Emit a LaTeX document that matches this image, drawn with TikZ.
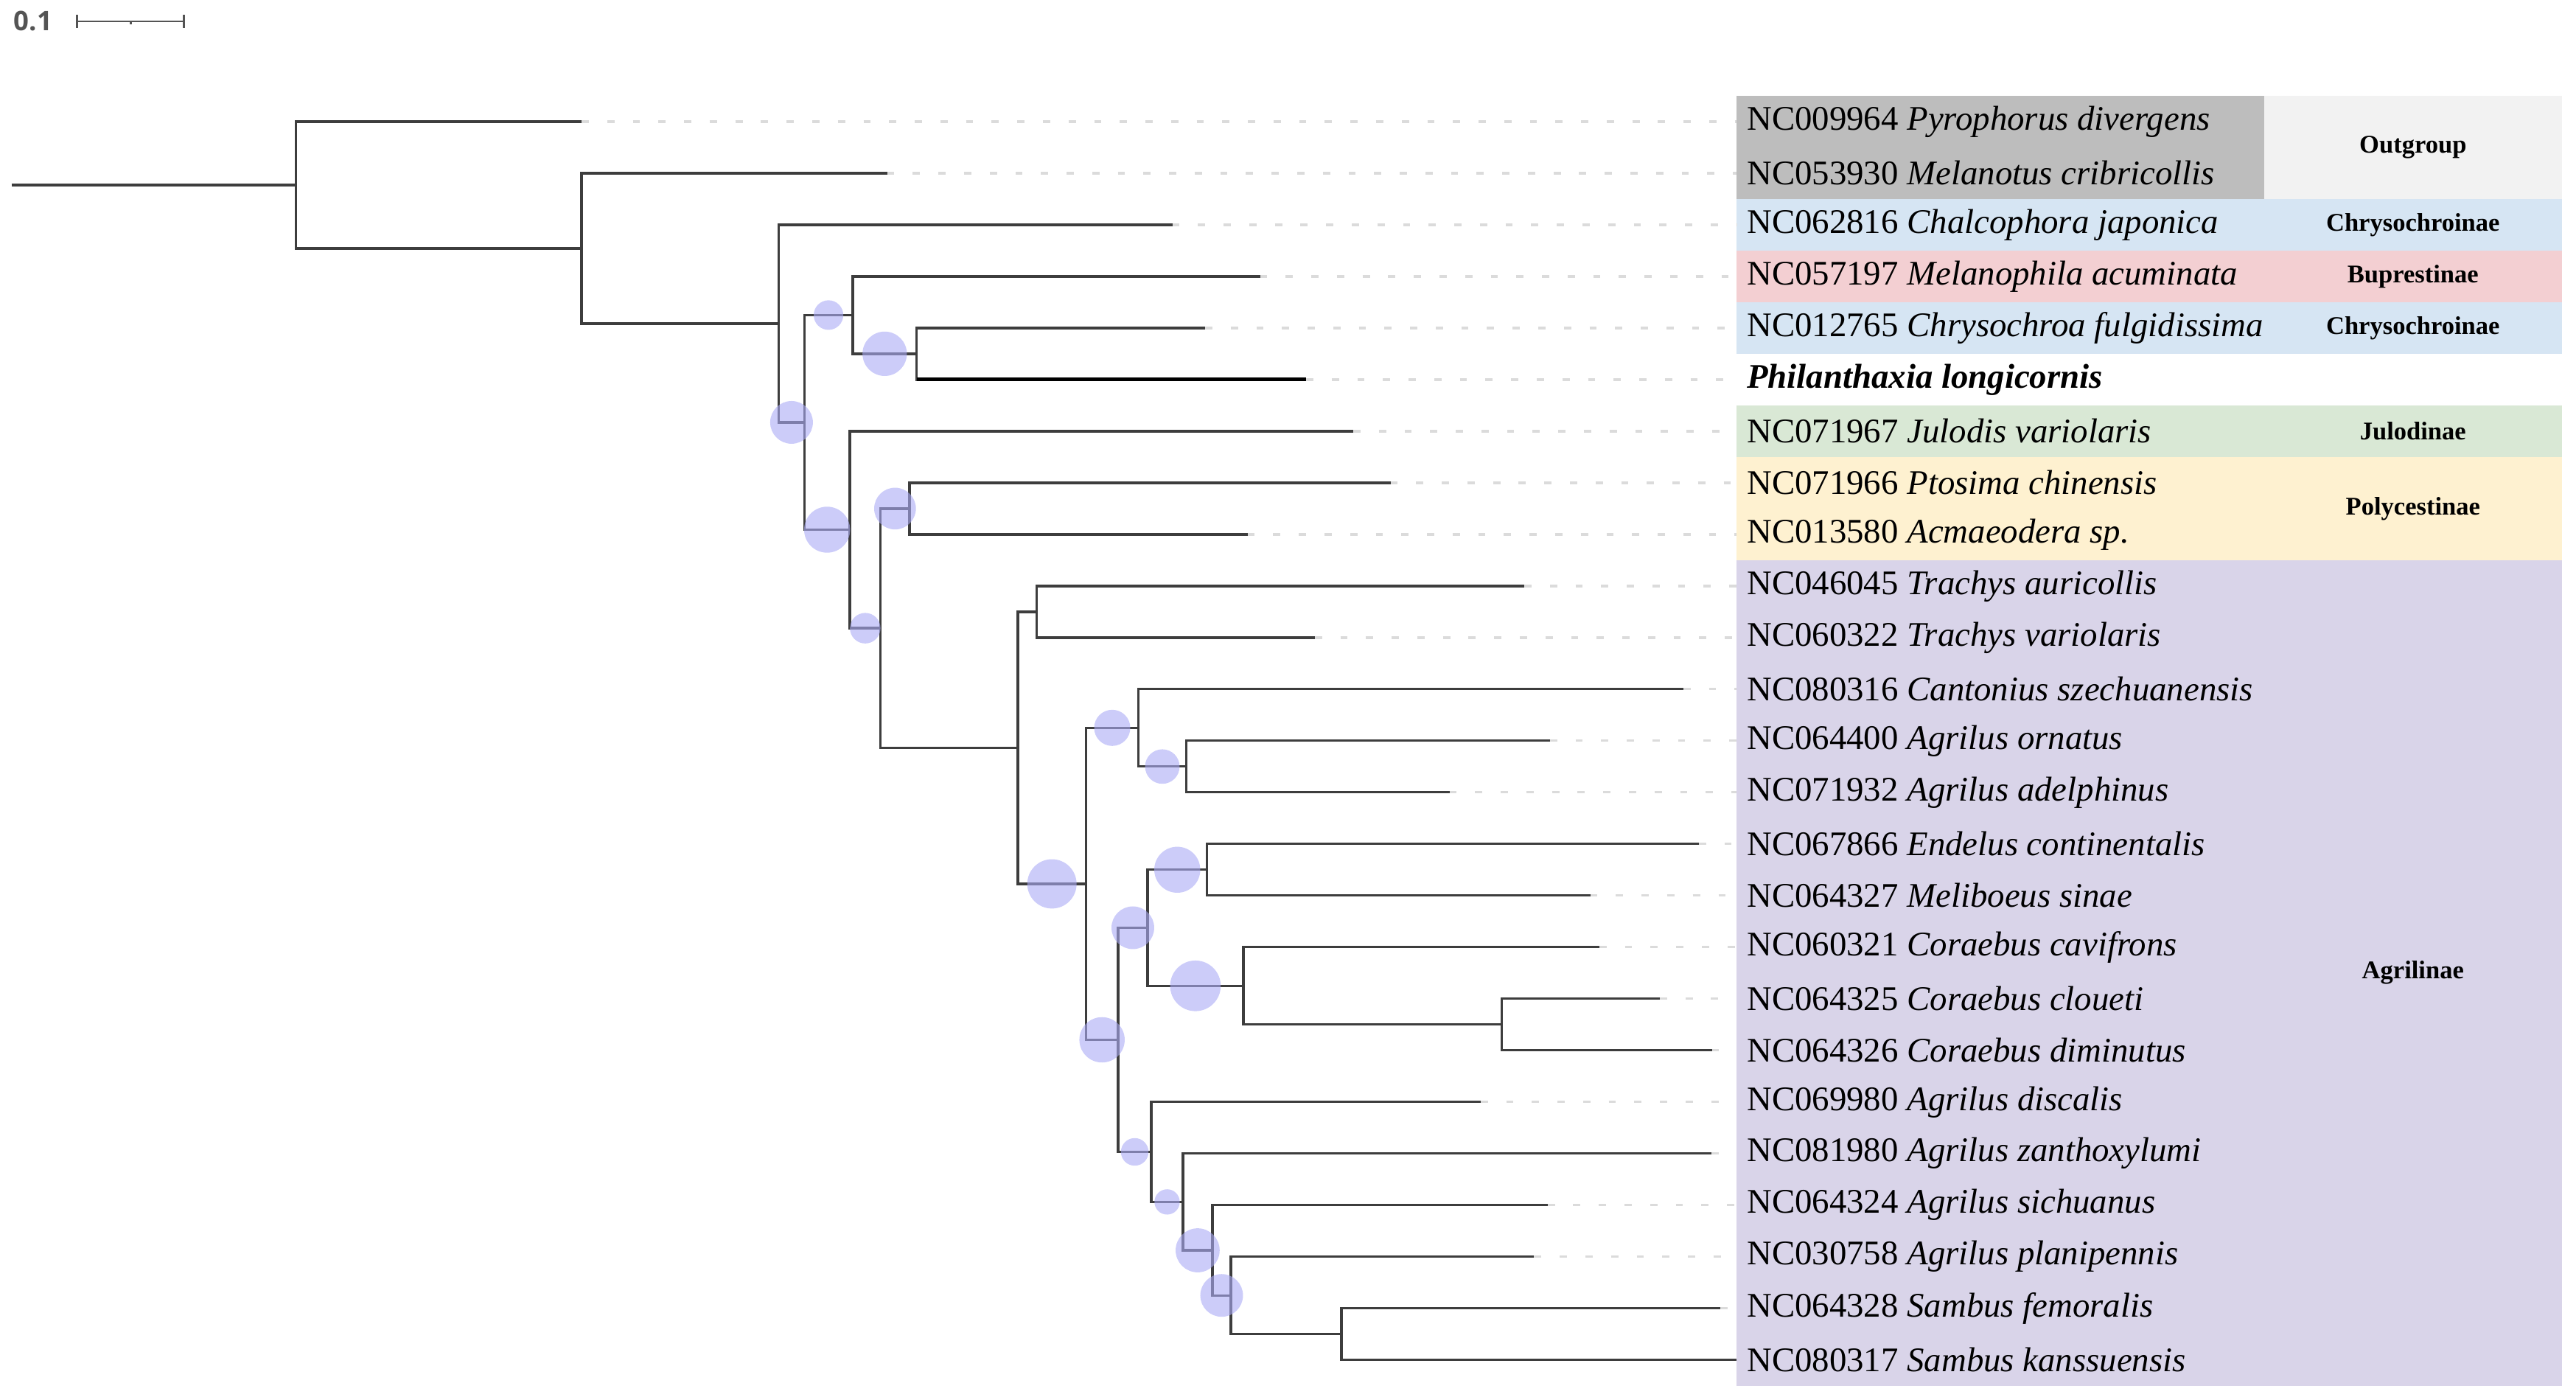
\documentclass[tikz,border=0pt]{standalone}
\usepackage{fontspec}
\usepackage{tikz}
\usepackage{xcolor}
\usetikzlibrary{calc}
\setmainfont{Liberation Serif}
\newfontfamily\barfont{Open Sans}
\definecolor{branchcolor}{gray}{0.24}
\definecolor{leadercolor}{gray}{0.86}
\definecolor{barcolor}{gray}{0.33}
\definecolor{supportcolor}{RGB}{170,170,245}
\definecolor{outgroupdark}{RGB}{189,189,189}
\definecolor{outgrouplight}{RGB}{242,242,242}
\definecolor{chrysocolor}{RGB}{214,229,243}
\definecolor{buprestcolor}{RGB}{243,207,210}
\definecolor{julodcolor}{RGB}{217,232,213}
\definecolor{polycolor}{RGB}{254,241,208}
\definecolor{agrilcolor}{RGB}{217,212,233}

\begin{document}
\begin{tikzpicture}[x=0.5pt,y=-0.5pt,
    branch/.style={draw=branchcolor,line width=0.75pt},
    focusbranch/.style={draw=black,line width=1.1pt},
    leader/.style={draw=leadercolor,line width=0.75pt,dash pattern=on 2.2pt off 5.6pt},
    support/.style={circle,fill=supportcolor,fill opacity=0.6,inner sep=0pt},
    taxon/.style={anchor=west,inner xsep=3pt,inner ysep=0pt,font=\fontsize{10.5}{12}\selectfont},
    subfamily/.style={minimum width=90.75pt,minimum height=15.7pt,inner sep=0pt,font=\fontsize{7.75}{9}\selectfont\bfseries},
    scalebar/.style={draw=barcolor,line width=0.6pt}]
    \useasboundingbox (0,0) rectangle (1568,850);

    % scale bar
    \node [anchor=west,inner sep=0pt,text=barcolor,font=\barfont\bfseries\fontsize{8.2}{9}\selectfont] (scaletext) at (8,13) {0.1};
    \coordinate (bar0) at (47,13);
    \coordinate (barmid) at (79.6,13);
    \coordinate (bar1) at (112,13);
    \draw [scalebar] (bar0) -- (bar1);
    \draw [scalebar] ([yshift=2pt]bar0) -- ([yshift=-2pt]bar0);
    \draw [scalebar] ([yshift=2pt]bar1) -- ([yshift=-2pt]bar1);
    \draw [scalebar] (barmid) -- ([yshift=-1pt]barmid);

    % label panels
    \fill [outgroupdark] (1057,58.3) rectangle (1378,121.1);
    \fill [chrysocolor] (1057,121.1) rectangle (1378,152.5);
    \fill [buprestcolor] (1057,152.5) rectangle (1378,183.9);
    \fill [chrysocolor] (1057,183.9) rectangle (1378,215.3);
    \fill [julodcolor] (1057,246.7) rectangle (1378,278.1);
    \fill [polycolor] (1057,278.1) rectangle (1378,340.9);
    \fill [agrilcolor] (1057,340.9) rectangle (1378,843.3);

    \node [subfamily,fill=outgrouplight,minimum height=31.4pt] (gout) at (1468.75,89.7) {Outgroup};
    \node [subfamily,fill=chrysocolor] (gchry1) at (1468.75,136.8) {Chrysochroinae};
    \node [subfamily,fill=buprestcolor] (gbup) at (1468.75,168.2) {Buprestinae};
    \node [subfamily,fill=chrysocolor] (gchry2) at (1468.75,199.6) {Chrysochroinae};
    \node [subfamily,fill=julodcolor] (gjul) at (1468.75,262.4) {Julodinae};
    \node [subfamily,fill=polycolor,minimum height=31.4pt] (gpoly) at (1468.75,309.5) {Polycestinae};
    \node [subfamily,fill=agrilcolor,minimum height=251.2pt] (gagr) at (1468.75,592.1) {Agrilinae};

    % taxon labels
    \node [taxon] (l1) at (1057,74) {NC009964 \textit{Pyrophorus divergens}};
    \node [taxon] (l2) at (1057,105.4) {NC053930 \textit{Melanotus cribricollis}};
    \node [taxon] (l3) at (1057,136.8) {NC062816 \textit{Chalcophora japonica}};
    \node [taxon] (l4) at (1057,168.2) {NC057197 \textit{Melanophila acuminata}};
    \node [taxon] (l5) at (1057,199.6) {NC012765 \textit{Chrysochroa fulgidissima}};
    \node [taxon] (l6) at (1057,231) {\bfseries\itshape Philanthaxia longicornis};
    \node [taxon] (l7) at (1057,262.4) {NC071967 \textit{Julodis variolaris}};
    \node [taxon] (l8) at (1057,293.8) {NC071966 \textit{Ptosima chinensis}};
    \node [taxon] (l9) at (1057,325.2) {NC013580 \textit{Acmaeodera sp.}};
    \node [taxon] (l10) at (1057,356.6) {NC046045 \textit{Trachys auricollis}};
    \node [taxon] (l11) at (1057,388) {NC060322 \textit{Trachys variolaris}};
    \node [taxon] (l12) at (1057,419.4) {NC080316 \textit{Cantonius szechuanensis}};
    \node [taxon] (l13) at (1057,450.8) {NC064400 \textit{Agrilus ornatus}};
    \node [taxon] (l14) at (1057,482.2) {NC071932 \textit{Agrilus adelphinus}};
    \node [taxon] (l15) at (1057,513.6) {NC067866 \textit{Endelus continentalis}};
    \node [taxon] (l16) at (1057,545) {NC064327 \textit{Meliboeus sinae}};
    \node [taxon] (l17) at (1057,576.4) {NC060321 \textit{Coraebus cavifrons}};
    \node [taxon] (l18) at (1057,607.8) {NC064325 \textit{Coraebus cloueti}};
    \node [taxon] (l19) at (1057,639.2) {NC064326 \textit{Coraebus diminutus}};
    \node [taxon] (l20) at (1057,670.6) {NC069980 \textit{Agrilus discalis}};
    \node [taxon] (l21) at (1057,702) {NC081980 \textit{Agrilus zanthoxylumi}};
    \node [taxon] (l22) at (1057,733.4) {NC064324 \textit{Agrilus sichuanus}};
    \node [taxon] (l23) at (1057,764.8) {NC030758 \textit{Agrilus planipennis}};
    \node [taxon] (l24) at (1057,796.2) {NC064328 \textit{Sambus femoralis}};
    \node [taxon] (l25) at (1057,827.6) {NC080317 \textit{Sambus kanssuensis}};

    % tips
    \coordinate (t1) at (354,74);
    \coordinate (t2) at (540,105.4);
    \coordinate (t3) at (713.6,136.8);
    \coordinate (t4) at (767,168.2);
    \coordinate (t5) at (733.5,199.6);
    \coordinate (t6) at (795,231);
    \coordinate (t7) at (823.7,262.4);
    \coordinate (t8) at (846.4,293.8);
    \coordinate (t9) at (759.4,325.2);
    \coordinate (t10) at (927.8,356.6);
    \coordinate (t11) at (800.3,388);
    \coordinate (t12) at (1024.6,419.4);
    \coordinate (t13) at (943.4,450.8);
    \coordinate (t14) at (882.3,482.2);
    \coordinate (t15) at (1034,513.6);
    \coordinate (t16) at (968,545);
    \coordinate (t17) at (973.5,576.4);
    \coordinate (t18) at (1010.3,607.8);
    \coordinate (t19) at (1042,639.2);
    \coordinate (t20) at (901.2,670.6);
    \coordinate (t21) at (1041.6,702);
    \coordinate (t22) at (942,733.4);
    \coordinate (t23) at (933.8,764.8);
    \coordinate (t24) at (1047,796.2);
    \coordinate (t25) at (1057,827.6);

    % leaders
    \foreach \i in {1,...,24}
        \draw [leader] (t\i) -- (l\i.west);

    % internal nodes
    \coordinate (root) at (7,112.6);
    \coordinate (nA) at (180,112.6);
    \coordinate (nB) at (354,151.15);
    \coordinate (nC) at (474,196.9);
    \coordinate (nD) at (489.6,257.05);
    \coordinate (nE) at (519,191.75);
    \coordinate (nG) at (558,215.3);
    \coordinate (nF) at (517.3,322.35);
    \coordinate (nH) at (536,382.3);
    \coordinate (nI) at (553.6,309.5);
    \coordinate (nJ) at (619.6,455.1);
    \coordinate (nK) at (631,372.3);
    \coordinate (nL) at (661,537.9);
    \coordinate (nM) at (693,442.95);
    \coordinate (nO) at (722,466.5);
    \coordinate (nN) at (680.6,632.8);
    \coordinate (nP) at (698.5,564.6);
    \coordinate (nR) at (734.7,529.3);
    \coordinate (nS) at (756.8,599.95);
    \coordinate (nT) at (914,623.5);
    \coordinate (nQ) at (700.8,701.0);
    \coordinate (nU) at (720,731.45);
    \coordinate (nV) at (738,760.9);
    \coordinate (nW) at (749.2,788.35);
    \coordinate (nX) at (816.5,811.9);

    % branches
    \draw [branch] (root) -- (nA);
    \draw [branch] (nA) |- (t1);
    \draw [branch] (nA) |- (nB);
    \draw [branch] (nB) |- (t2);
    \draw [branch] (nB) |- (nC);
    \draw [branch] (nC) |- (t3);
    \draw [branch] (nC) |- (nD);
    \draw [branch] (nD) |- (nE);
    \draw [branch] (nD) |- (nF);
    \draw [branch] (nE) |- (t4);
    \draw [branch] (nE) |- (nG);
    \draw [branch] (nG) |- (t5);
    \draw [branch] (nG) |- (t6);
    \draw [focusbranch] (nG |- t6) -- (t6);
    \draw [branch] (nF) |- (t7);
    \draw [branch] (nF) |- (nH);
    \draw [branch] (nH) |- (nI);
    \draw [branch] (nH) |- (nJ);
    \draw [branch] (nI) |- (t8);
    \draw [branch] (nI) |- (t9);
    \draw [branch] (nJ) |- (nK);
    \draw [branch] (nJ) |- (nL);
    \draw [branch] (nK) |- (t10);
    \draw [branch] (nK) |- (t11);
    \draw [branch] (nL) |- (nM);
    \draw [branch] (nL) |- (nN);
    \draw [branch] (nM) |- (t12);
    \draw [branch] (nM) |- (nO);
    \draw [branch] (nO) |- (t13);
    \draw [branch] (nO) |- (t14);
    \draw [branch] (nN) |- (nP);
    \draw [branch] (nN) |- (nQ);
    \draw [branch] (nP) |- (nR);
    \draw [branch] (nP) |- (nS);
    \draw [branch] (nR) |- (t15);
    \draw [branch] (nR) |- (t16);
    \draw [branch] (nS) |- (t17);
    \draw [branch] (nS) |- (nT);
    \draw [branch] (nT) |- (t18);
    \draw [branch] (nT) |- (t19);
    \draw [branch] (nQ) |- (t20);
    \draw [branch] (nQ) |- (nU);
    \draw [branch] (nU) |- (t21);
    \draw [branch] (nU) |- (nV);
    \draw [branch] (nV) |- (t22);
    \draw [branch] (nV) |- (nW);
    \draw [branch] (nW) |- (t23);
    \draw [branch] (nW) |- (nX);
    \draw [branch] (nX) |- (t24);
    \draw [branch] (nX) |- (t25);

    % support circles
    \node [support,minimum size=13pt] (sD) at ($(nC |- nD)!0.5!(nD)$) {};
    \node [support,minimum size=9pt] (sE) at ($(nD |- nE)!0.5!(nE)$) {};
    \node [support,minimum size=13.5pt] (sG) at ($(nE |- nG)!0.5!(nG)$) {};
    \node [support,minimum size=14pt] (sF) at ($(nD |- nF)!0.5!(nF)$) {};
    \node [support,minimum size=9.3pt] (sH) at ($(nF |- nH)!0.5!(nH)$) {};
    \node [support,minimum size=12.7pt] (sI) at ($(nH |- nI)!0.5!(nI)$) {};
    \node [support,minimum size=15pt] (sL) at ($(nJ |- nL)!0.5!(nL)$) {};
    \node [support,minimum size=11pt] (sM) at ($(nL |- nM)!0.5!(nM)$) {};
    \node [support,minimum size=10.5pt] (sO) at ($(nM |- nO)!0.5!(nO)$) {};
    \node [support,minimum size=13.8pt] (sN) at ($(nL |- nN)!0.5!(nN)$) {};
    \node [support,minimum size=13pt] (sP) at ($(nN |- nP)!0.5!(nP)$) {};
    \node [support,minimum size=14pt] (sR) at ($(nP |- nR)!0.5!(nR)$) {};
    \node [support,minimum size=15.4pt] (sS) at ($(nP |- nS)!0.5!(nS)$) {};
    \node [support,minimum size=8.4pt] (sQ) at ($(nN |- nQ)!0.5!(nQ)$) {};
    \node [support,minimum size=7.7pt] (sU) at ($(nQ |- nU)!0.5!(nU)$) {};
    \node [support,minimum size=13.4pt] (sV) at ($(nU |- nV)!0.5!(nV)$) {};
    \node [support,minimum size=13pt] (sW) at ($(nV |- nW)!0.5!(nW)$) {};
\end{tikzpicture}
\end{document}
